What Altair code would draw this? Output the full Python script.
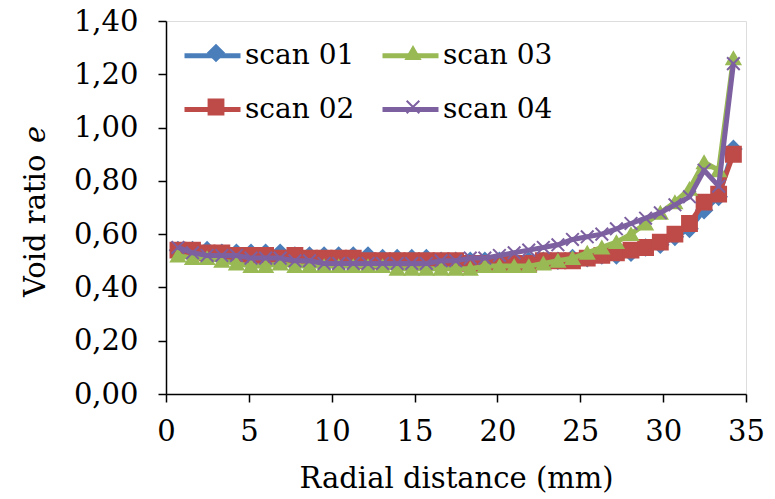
import altair as alt
import pandas as pd

# ---------------- data ----------------
x_mm = [0.72, 1.60, 2.48, 3.37, 4.25, 5.13, 6.01, 6.89, 7.78, 8.66,
        9.54, 10.42, 11.30, 12.19, 13.07, 13.95, 14.83, 15.71, 16.60, 17.48,
        18.36, 19.24, 20.12, 21.01, 21.89, 22.77, 23.65, 24.53, 25.42, 26.30,
        27.18, 28.06, 28.94, 29.83, 30.71, 31.59, 32.47, 33.35, 34.24]

scan01 = [0.54, 0.54, 0.54, 0.53, 0.53, 0.53, 0.53, 0.53, 0.52, 0.52,
          0.52, 0.52, 0.52, 0.52, 0.51, 0.51, 0.51, 0.51, 0.50, 0.50,
          0.50, 0.50, 0.50, 0.50, 0.50, 0.50, 0.50, 0.51, 0.51, 0.52,
          0.52, 0.53, 0.55, 0.56, 0.59, 0.62, 0.69, 0.74, 0.92]

scan02 = [0.54, 0.54, 0.53, 0.53, 0.52, 0.52, 0.52, 0.51, 0.52, 0.51,
          0.51, 0.51, 0.51, 0.50, 0.50, 0.50, 0.50, 0.50, 0.50, 0.50,
          0.49, 0.49, 0.49, 0.49, 0.49, 0.50, 0.50, 0.50, 0.51, 0.52,
          0.53, 0.54, 0.55, 0.57, 0.60, 0.64, 0.72, 0.75, 0.90]

scan03 = [0.52, 0.51, 0.51, 0.50, 0.49, 0.48, 0.48, 0.49, 0.48, 0.48,
          0.48, 0.48, 0.48, 0.48, 0.48, 0.47, 0.47, 0.47, 0.47, 0.47,
          0.47, 0.48, 0.48, 0.48, 0.48, 0.49, 0.50, 0.51, 0.53, 0.55,
          0.57, 0.60, 0.64, 0.68, 0.72, 0.77, 0.87, 0.84, 1.26]

scan04 = [0.55, 0.53, 0.52, 0.52, 0.52, 0.51, 0.51, 0.51, 0.50, 0.50,
          0.49, 0.49, 0.49, 0.49, 0.49, 0.49, 0.49, 0.49, 0.50, 0.50,
          0.51, 0.51, 0.52, 0.53, 0.54, 0.55, 0.56, 0.58, 0.59, 0.60,
          0.62, 0.64, 0.66, 0.68, 0.71, 0.74, 0.84, 0.78, 1.24]

series_names = ["scan 01", "scan 02", "scan 03", "scan 04"]
colors = ["#4A7EBB", "#BE4B48", "#98B954", "#7D60A0"]
X_PATH = "M-1,-1L1,1M-1,1L1,-1"
shapes = ["diamond", "square", "triangle-up", X_PATH]
sizes = [250, 160, 330, 330]

x_ticks = [0, 5, 10, 15, 20, 25, 30, 35]
y_ticks = [0.0, 0.2, 0.4, 0.6, 0.8, 1.0, 1.2, 1.4]

rows = []
for name, vals in zip(series_names, [scan01, scan02, scan03, scan04]):
    for xv, yv in zip(x_mm, vals):
        rows.append({"x": xv, "e": yv, "series": name, "sp": name})
df = pd.DataFrame(rows)

FONT = "DejaVu Serif"
FS = 29      # tick labels and titles
LFS = 28     # legend labels

xscale = alt.Scale(domain=[0, 35], nice=False, zero=False)
yscale = alt.Scale(domain=[0, 1.4], nice=False)

xaxis = alt.Axis(values=x_ticks, grid=False, tickSize=8, tickWidth=1.5,
                 tickColor="black", domainColor="black", domainWidth=1.5,
                 labelFont=FONT, labelFontSize=FS, labelColor="black",
                 labelPadding=15, labelFlush=False,
                 title="Radial distance (mm)", titleFont=FONT, titleFontSize=FS,
                 titleFontWeight="normal", titleColor="black", titlePadding=18)
yaxis = alt.Axis(values=y_ticks, grid=False, tickSize=8, tickWidth=1.5,
                 tickColor="black", domainColor="black", domainWidth=1.5,
                 labelFont=FONT, labelFontSize=FS, labelColor="black",
                 labelPadding=20, labelFlush=False,
                 labelExpr="replace(format(datum.value, '.2f'), '.', ',')",
                 title=None)

line_legend = alt.Legend(orient="none", legendX=16, legendY=4, columns=2,
                         title=None, symbolType="stroke", symbolSize=3136,
                         symbolStrokeWidth=5, labelFont=FONT, labelFontSize=LFS,
                         labelColor="black", labelOffset=2, columnPadding=17,
                         rowPadding=9, padding=0, labelLimit=300)

pt_legend = alt.Legend(orient="none", legendX=16, legendY=18, columns=2,
                       title=None, symbolStrokeWidth=2, symbolOffset=20,
                       labelFont=FONT, labelFontSize=LFS, labelColor="black",
                       labelOpacity=0, labelOffset=5, columnPadding=34,
                       rowPadding=26, padding=0, labelLimit=300)

base = alt.Chart(df)
layers = []
for s in series_names:
    line = base.transform_filter(alt.datum.series == s).mark_line(
        strokeWidth=5, strokeJoin="round").encode(
        x=alt.X("x:Q", scale=xscale, axis=xaxis),
        y=alt.Y("e:Q", scale=yscale, axis=yaxis),
        color=alt.Color("series:N", scale=alt.Scale(domain=series_names, range=colors),
                        legend=line_legend),
    )
    pts = base.transform_filter(alt.datum.sp == s).mark_point(
        filled=True, opacity=1, strokeWidth=2).encode(
        x=alt.X("x:Q", scale=xscale, axis=xaxis),
        y=alt.Y("e:Q", scale=yscale, axis=yaxis),
        fill=alt.Fill("sp:N", scale=alt.Scale(range=colors), legend=pt_legend),
        stroke=alt.Stroke("sp:N", scale=alt.Scale(range=colors), legend=pt_legend),
        shape=alt.Shape("sp:N", scale=alt.Scale(range=shapes), legend=pt_legend),
        size=alt.Size("sp:N", scale=alt.Scale(range=sizes), legend=pt_legend),
    )
    layers += [line, pts]

title_main = alt.Chart(pd.DataFrame({"t": ["Void ratio"]})).mark_text(
    font=FONT, fontSize=FS, angle=270, align="left", baseline="alphabetic",
    color="black").encode(text="t:N", x=alt.value(-121), y=alt.value(276))
title_e = alt.Chart(pd.DataFrame({"t": ["e"]})).mark_text(
    font=FONT, fontSize=FS, fontStyle="italic", angle=270, align="left",
    baseline="alphabetic", color="black").encode(
    text="t:N", x=alt.value(-121), y=alt.value(122))

chart = alt.layer(*layers, title_main, title_e).properties(
    width=580, height=373,
    autosize=alt.AutoSizeParams(type="none"),
    padding={"left": 166, "top": 21, "right": 29, "bottom": 105},
).configure_view(stroke="black", strokeWidth=1.5).configure(background="white")

chart.save("out.html", embed_options={"renderer": "svg", "actions": False})
